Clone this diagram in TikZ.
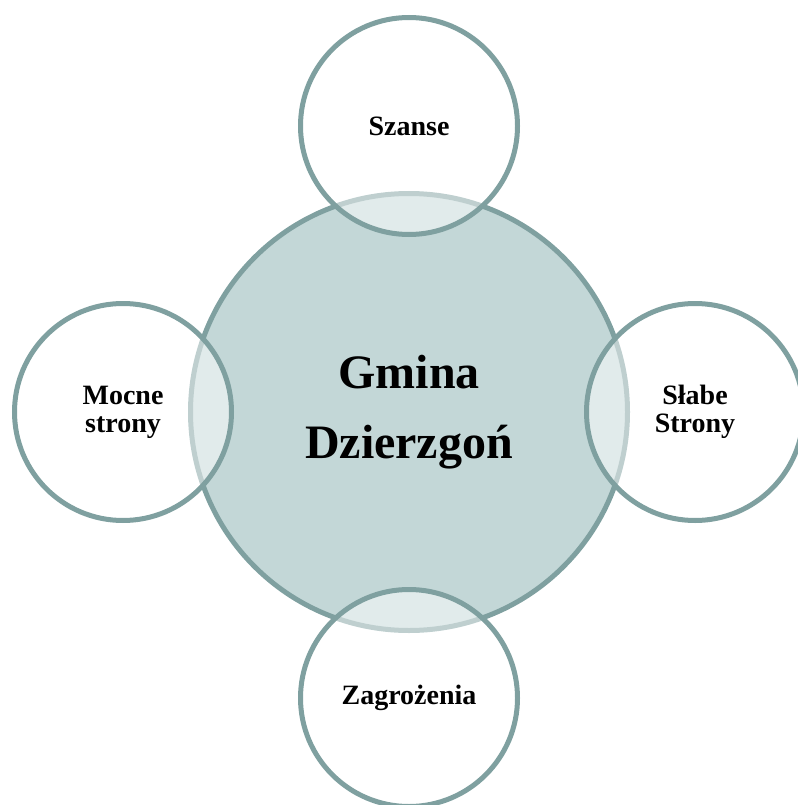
\documentclass[tikz,border=0pt]{standalone}
\usepackage{fontspec}
\setmainfont{Liberation Serif}
\definecolor{ringc}{HTML}{7FA0A0}
\definecolor{corec}{HTML}{C3D7D7}
\begin{document}
\begin{tikzpicture}[x=1pt,y=-1pt,
  core/.style={circle,draw=ringc,line width=5pt,fill=corec,minimum size=437pt,inner sep=0pt,align=center,
    font=\fontsize{48}{70}\selectfont\bfseries},
  sat/.style={circle,draw=ringc,line width=5pt,fill=white,fill opacity=0.5,draw opacity=1,text opacity=1,
    minimum size=217pt,inner sep=0pt,align=center,font=\fontsize{28}{28}\selectfont\bfseries}]
\useasboundingbox (0,0) rectangle (797,805);
\node[core] (g) at (409,412) {Gmina\\Dzierzgoń};
\node[sat] (s) at (409,126) {Szanse};
\node[sat] (m) at (123,412) {Mocne\\strony};
\node[sat] (w) at (695,412) {Słabe\\Strony};
\node[sat] (z) at (409,698) {Zagrożenia};
\end{tikzpicture}
\end{document}
